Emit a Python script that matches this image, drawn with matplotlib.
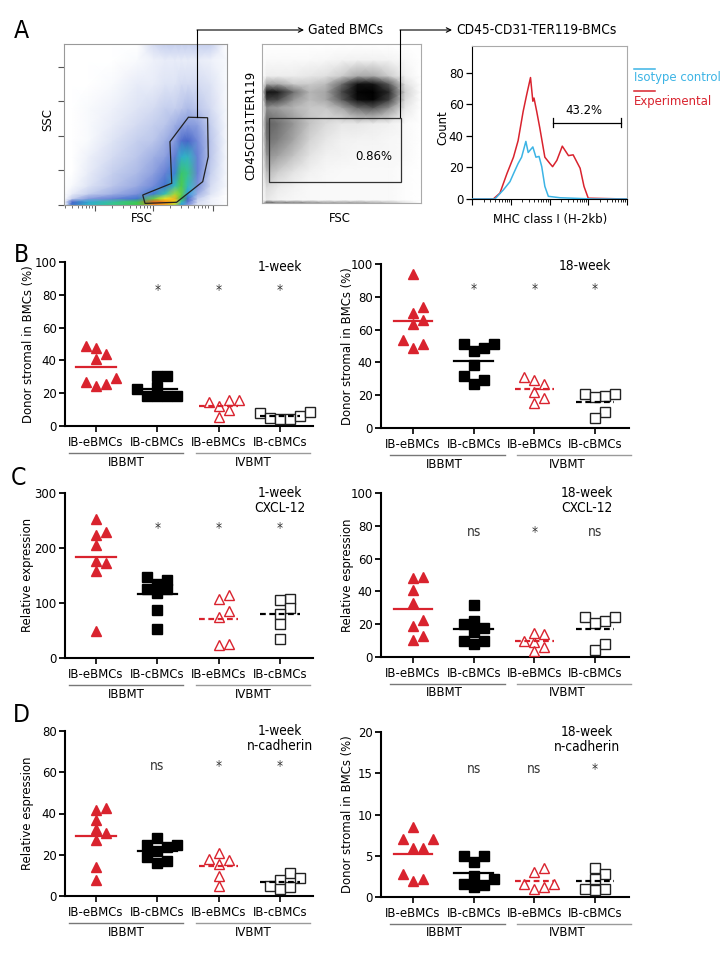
import numpy as np
import matplotlib
matplotlib.use("Agg")
import matplotlib.pyplot as plt
import matplotlib.transforms as mtransforms
from matplotlib import font_manager
from matplotlib.colors import LinearSegmentedColormap

# ---------------- data ----------------
categories = ["IB-eBMCs", "IB-cBMCs", "IB-eBMCs", "IB-cBMCs"]
groups = ["IBBMT", "IVBMT"]

# B: donor stromal in BMCs (%)
b_1week = [
    [47.5, 49, 44, 41, 27, 24.5, 25.5, 29.5],
    [30.5, 30.5, 23.5, 22.5, 18, 18, 18, 18.5],
    [16, 14.5, 16, 12, 9.5, 5.5],
    [8, 5, 4, 4, 6, 8.5],
]
b_18week = [
    [94, 70, 74, 66, 63.5, 53.5, 48.5, 51.5],
    [51, 47, 48.5, 51.5, 38.5, 32, 27, 29],
    [29.5, 27, 31, 22, 18, 15],
    [20.5, 19.5, 19, 20.5, 10, 6],
]
# C: CXCL-12 relative expression
c_1week = [
    [253, 229, 223, 206, 172, 176, 158, 50],
    [148, 126, 141, 135, 125, 117.5, 87, 53],
    [108, 115, 85, 74.5, 23, 25],
    [108, 105, 91, 79.5, 62.5, 34],
]
c_18week = [
    [48, 49, 41, 33, 22.5, 19, 13, 10.5],
    [32, 22, 17.5, 20, 15.5, 10, 8, 9.5],
    [14, 9, 10, 14.5, 3.5, 6],
    [24.5, 22, 20.5, 24.5, 4.5, 8],
]
# D: n-cadherin
d_1week = [
    [41.5, 42.5, 37, 32.5, 30.5, 27, 14, 8],
    [28, 24.5, 24, 24.5, 22, 19, 17, 16],
    [21, 17.5, 18, 15.5, 9.5, 5],
    [11, 8.5, 8, 5, 3.5, 4.5],
]
d_18week = [
    [8.5, 7, 7, 6, 6, 2.8, 2, 2.2],
    [5, 5, 4.2, 2.5, 2.2, 1.6, 1.4, 1.2],
    [3.5, 3, 1.6, 1.6, 1, 1.2],
    [3.5, 2.8, 2.2, 1.0, 0.8, 1.0],
]
sig_b_1week = ["", "*", "*", "*"]
sig_b_18week = ["", "*", "*", "*"]
sig_c_1week = ["", "*", "*", "*"]
sig_c_18week = ["", "ns", "*", "ns"]
sig_d_1week = ["", "ns", "*", "*"]
sig_d_18week = ["", "ns", "ns", "*"]

# A: MHC class I histogram (x in decades, count)
hist_x_exp = [0, 0.55, 0.72, 0.90, 1.07, 1.19, 1.32, 1.41, 1.51, 1.57, 1.60, 1.67, 1.75,
              1.88, 2.01, 2.08, 2.19, 2.33, 2.49, 2.61, 2.79, 2.89, 3.00, 4.0]
hist_exp = [0, 0, 3.7, 16, 26.5, 37, 55.5, 66, 77, 62, 64, 55.5, 45,
            26.5, 22.5, 20.5, 24.5, 33.5, 27.5, 28, 19.5, 8, 0.5, 0]
hist_x_iso = [0, 0.59, 0.81, 0.98, 1.07, 1.19, 1.28, 1.39, 1.45, 1.57, 1.65, 1.73, 1.80,
              1.88, 1.97, 2.27, 2.70, 3.13, 4.0]
hist_iso = [0, 0, 5.8, 11, 16, 22.5, 26.5, 36.5, 29.5, 33, 26.5, 27, 20.5,
            8, 1.7, 0.8, 0.4, 0, 0]

# A: FSC/SSC event density (relative)
fsc_ssc_x = [0, 0.05, 0.15, 0.3, 0.45, 0.55, 0.62, 0.68, 0.72, 0.76, 0.82, 0.9, 1.0]
fsc_ssc_y = [0, 0.02, 0.04, 0.07, 0.12, 0.2, 0.3, 0.4, 0.5, 0.6, 0.75, 0.9, 1.0]
fsc_ssc_density = [
    [0, 0.24, 0.36, 0.45, 0.50, 0.85, 0.80, 0.62, 0.30, 0.12, 0.04, 0.02, 0],
    [0, 0.22, 0.34, 0.44, 0.50, 0.92, 0.88, 0.75, 0.40, 0.18, 0.05, 0.02, 0],
    [0, 0.06, 0.12, 0.16, 0.24, 0.55, 0.72, 0.80, 0.50, 0.22, 0.06, 0.02, 0],
    [0, 0.03, 0.06, 0.09, 0.13, 0.25, 0.42, 0.62, 0.55, 0.30, 0.09, 0.04, 0],
    [0, 0.01, 0.04, 0.07, 0.10, 0.14, 0.24, 0.40, 0.52, 0.40, 0.13, 0.05, 0.01],
    [0, 0.00, 0.03, 0.06, 0.08, 0.11, 0.16, 0.26, 0.48, 0.45, 0.16, 0.06, 0.01],
    [0, 0.00, 0.02, 0.05, 0.07, 0.09, 0.11, 0.17, 0.35, 0.38, 0.16, 0.07, 0.01],
    [0, 0.00, 0.01, 0.04, 0.06, 0.07, 0.09, 0.12, 0.20, 0.22, 0.14, 0.07, 0.01],
    [0, 0.00, 0.01, 0.03, 0.05, 0.06, 0.07, 0.09, 0.11, 0.12, 0.11, 0.06, 0.01],
    [0, 0.00, 0.01, 0.02, 0.04, 0.05, 0.06, 0.06, 0.07, 0.08, 0.07, 0.05, 0.01],
    [0, 0.00, 0.00, 0.01, 0.03, 0.03, 0.04, 0.04, 0.05, 0.05, 0.05, 0.04, 0.01],
    [0, 0.00, 0.00, 0.00, 0.01, 0.02, 0.03, 0.03, 0.03, 0.03, 0.03, 0.02, 0.01],
    [0, 0.00, 0.00, 0.00, 0.00, 0.05, 0.06, 0.06, 0.06, 0.06, 0.06, 0.06, 0],
]
gate_bmc = [(0.763, 0.545), (0.881, 0.542), (0.885, 0.300), (0.851, 0.145), (0.691, 0.017),
            (0.497, 0.010), (0.483, 0.062), (0.661, 0.135), (0.650, 0.393)]

# A: CD45CD31TER119 vs FSC event density
fsc_cd_x = [0, 0.03, 0.1, 0.2, 0.3, 0.4, 0.5, 0.6, 0.7, 0.8, 0.9, 1.0]
fsc_cd_y = [0, 0.02, 0.1, 0.2, 0.3, 0.4, 0.5, 0.6, 0.65, 0.7, 0.75, 0.8, 0.9, 1.0]
fsc_cd_density = [
    [0, 0.50, 0.40, 0.40, 0.35, 0.30, 0.30, 0.30, 0.25, 0.20, 0.10, 0],
    [0, 0.08, 0.04, 0.03, 0.02, 0.02, 0.02, 0.02, 0.02, 0.02, 0.01, 0],
    [0, 0.12, 0.07, 0.04, 0.02, 0.02, 0.02, 0.02, 0.02, 0.02, 0.01, 0],
    [0, 0.22, 0.16, 0.09, 0.05, 0.03, 0.02, 0.02, 0.02, 0.02, 0.01, 0],
    [0, 0.32, 0.27, 0.18, 0.09, 0.05, 0.04, 0.03, 0.03, 0.03, 0.02, 0],
    [0, 0.40, 0.36, 0.26, 0.14, 0.08, 0.05, 0.04, 0.04, 0.03, 0.02, 0],
    [0, 0.44, 0.40, 0.30, 0.18, 0.12, 0.08, 0.08, 0.06, 0.05, 0.02, 0],
    [0, 0.32, 0.28, 0.22, 0.17, 0.17, 0.26, 0.42, 0.47, 0.32, 0.08, 0],
    [0, 0.55, 0.50, 0.30, 0.20, 0.25, 0.45, 0.85, 0.95, 0.55, 0.12, 0],
    [0, 0.80, 0.72, 0.40, 0.22, 0.26, 0.50, 0.95, 1.00, 0.65, 0.15, 0],
    [0, 0.25, 0.25, 0.16, 0.16, 0.20, 0.40, 0.80, 0.75, 0.45, 0.10, 0],
    [0, 0.06, 0.06, 0.06, 0.08, 0.10, 0.16, 0.25, 0.25, 0.16, 0.05, 0],
    [0, 0.02, 0.02, 0.02, 0.02, 0.03, 0.04, 0.05, 0.05, 0.04, 0.02, 0],
    [0, 0, 0, 0, 0, 0, 0, 0, 0, 0, 0, 0],
]
gate_cd = [(0.046, 0.134), (0.874, 0.134), (0.874, 0.533), (0.046, 0.533)]

# ---------------- fonts ----------------
def pick_font():
    # prefer a narrow / condensed sans face, like the original figure
    found = []
    for f in font_manager.fontManager.ttflist:
        key = (f.fname + " " + f.name).lower()
        narrow = "narrow" in key or "condensed" in key or f.stretch in ("condensed", "semi-condensed")
        if not narrow or "mono" in key or "serif" in key or "extra" in key or "ultra" in key:
            continue
        if f.style != "normal" or f.weight not in (400, "normal", "regular"):
            continue
        found.append(f)
    if found:
        found.sort(key=lambda f: 0 if "liberation" in f.name.lower() else 1)
        return found[0].name, found[0].stretch
    names = {f.name for f in font_manager.fontManager.ttflist}
    for n in ["Roboto", "Liberation Sans", "DejaVu Sans"]:
        if n in names:
            return n, "normal"
    return "DejaVu Sans", "normal"


fam, stretch = pick_font()
plt.rcParams["font.family"] = [fam, "DejaVu Sans"]
plt.rcParams["font.stretch"] = stretch

RED = "#d9232e"
BLUE = "#3cb4e5"

fig = plt.figure(figsize=(7.2, 9.6), dpi=100)

# scale text so a category label is about as wide as in the original
_probe = fig.text(0, 0, "IB-eBMCs", fontsize=10)
_w = _probe.get_window_extent(fig.canvas.get_renderer()).width
_probe.remove()
K = min(1.0, 55.0 / _w)


def fs(size):
    return size * K


def add_ax(x0, y0, x1, y1):
    return fig.add_axes([x0 / 720, 1 - y1 / 960, (x1 - x0) / 720, (y1 - y0) / 960])


def swarm_offsets(vals, px_y, px_x, size=10.0, ytol=8.5):
    # greedy beeswarm in pixel space, lowest values first
    vals = np.asarray(vals, float)
    order = np.argsort(vals, kind="stable")
    cands = [0.0]
    for k in range(1, 14):
        cands += [k * size / 2, -k * size / 2]
    placed = []
    offs = np.zeros(len(vals))
    for i in order:
        y = vals[i] * px_y
        for c in cands:
            if all(abs(c - px) >= size * 0.98 or abs(y - py) >= ytol for px, py in placed):
                break
        placed.append((c, y))
        offs[i] = c / px_x
    return offs


marker_styles = [
    dict(marker="^", ms=7, mfc=RED, mec=RED, mew=1.0),
    dict(marker="s", ms=6.5, mfc="k", mec="k", mew=1.0),
    dict(marker="^", ms=7, mfc="white", mec=RED, mew=1.0),
    dict(marker="s", ms=6.5, mfc="white", mec="#222222", mew=1.0),
]
mean_styles = [(RED, "-"), ("k", "-"), (RED, "--"), ("k", "--")]


def dot_panel(box, data, ymax, yticks, sig, sig_y, title, title_x, title_y, xlim, left_side):
    ax = add_ax(*box)
    ax.set_xlim(*xlim)
    ax.set_ylim(0, ymax)
    px_x = (box[2] - box[0]) / (xlim[1] - xlim[0])
    px_y = (box[3] - box[1]) / ymax
    for i, vals in enumerate(data):
        x = i + 1
        offs = swarm_offsets(vals, px_y, px_x)
        ax.plot(x + offs, vals, linestyle="none", clip_on=False, zorder=3, **marker_styles[i])
        col, ls = mean_styles[i]
        kw = dict(dashes=(2.6, 1.6)) if ls == "--" else {}
        ax.plot([x - 0.32, x + 0.32], [np.mean(vals)] * 2, color=col, lw=1.6, zorder=4, **kw)
        if sig[i]:
            ax.text(x, sig_y, sig[i], ha="center", va="center", fontsize=fs(10.5), color="#333333")
    ax.text(title_x, title_y, title, ha="center", va="top", fontsize=fs(10.5), linespacing=1.05)
    for s in ["top", "right"]:
        ax.spines[s].set_visible(False)
    for s in ["left", "bottom"]:
        ax.spines[s].set_linewidth(1.5)
    ax.set_yticks(yticks)
    ax.set_yticklabels([str(t) for t in yticks])
    ax.set_xticks([1, 2, 3, 4])
    ax.set_xticklabels(categories)
    ax.tick_params(axis="y", length=4, width=1.3, pad=2, labelsize=fs(10))
    ax.tick_params(axis="x", length=4, width=1.2, pad=3, labelsize=fs(10))
    if left_side:
        spans = [(0.56, 2.42), (2.63, 4.49)]
        lab_x = [1.49, 3.56]
    else:
        spans = [(0.62, 2.52), (2.72, 4.6)]
        lab_x = [1.52, 3.55]
    line_tr = mtransforms.offset_copy(ax.get_xaxis_transform(), fig=fig, y=-27, units="dots")
    lab_tr = mtransforms.offset_copy(ax.get_xaxis_transform(), fig=fig, y=-36, units="dots")
    for (a, b), lx, g, gc in zip(spans, lab_x, groups, ["#777777", "#9a9a9a"]):
        ax.plot([a, b], [0, 0], color=gc, lw=1.0, transform=line_tr, clip_on=False)
        ax.text(lx, 0, g, transform=lab_tr, ha="center", va="center", fontsize=fs(10))
    return ax


# ---------------- panel A ----------------
cmap_flow = LinearSegmentedColormap.from_list(
    "flow",
    [(0, "white"), (0.02, "#eef1fa"), (0.04, "#dde3f5"), (0.08, "#aab8e6"), (0.14, "#7088d8"),
     (0.22, "#4766c8"), (0.3, "#2f9fe0"), (0.42, "#35c2b0"), (0.5, "#3cc850"), (0.62, "#a6da38"),
     (0.72, "#f2e81e"), (0.85, "#f5941c"), (1.0, "#e2231a")])
cmap_gray = LinearSegmentedColormap.from_list(
    "gray", [(0, "white"), (0.05, "#f0f0f0"), (0.15, "#cfcfcf"), (0.3, "#969696"),
             (0.5, "#4a4a4a"), (0.75, "#151515"), (1.0, "black")])

ax1 = add_ax(64, 44, 227, 205)
ax1.pcolormesh(fsc_ssc_x, fsc_ssc_y, np.array(fsc_ssc_density), shading="gouraud",
               cmap=cmap_flow, vmin=0, vmax=1)
ax1.add_patch(plt.Polygon(gate_bmc, closed=True, fill=False, ec="#222222", lw=0.9))
ax1.set_xlim(0, 1)
ax1.set_ylim(0, 1)
ax1.set_yticks([0, 0.215, 0.43, 0.645, 0.86])
dec = 0.356
majors = [0.19, 0.546, 0.914]
minors = [b + dec * np.log10(k) for b in [-0.166] + majors for k in range(2, 10)]
ax1.set_xticks(majors)
ax1.set_xticks([m for m in minors if 0 < m < 1], minor=True)
ax1.tick_params(which="both", labelbottom=False, labelleft=False, color="#555555")
ax1.tick_params(which="major", length=4, width=0.8)
ax1.tick_params(which="minor", length=2.5, width=0.6)
for s in ax1.spines.values():
    s.set_color("#999999")
    s.set_linewidth(0.8)

ax2 = add_ax(262, 44, 421, 203)
ax2.pcolormesh(fsc_cd_x, fsc_cd_y, np.array(fsc_cd_density), shading="gouraud",
               cmap=cmap_gray, vmin=0, vmax=1)
ax2.add_patch(plt.Polygon(gate_cd, closed=True, fill=False, ec="#333333", lw=0.9))
ax2.set_xlim(0, 1)
ax2.set_ylim(0, 1)
ax2.set_xticks([])
ax2.set_yticks([])
for s in ax2.spines.values():
    s.set_color("#aaaaaa")
    s.set_linewidth(0.8)
ax2.text(0.7, 0.29, "0.86%", transform=ax2.transAxes, ha="center", va="center", fontsize=fs(10))

ax3 = add_ax(472, 46, 627, 199)
ax3.plot(hist_x_iso, hist_iso, color=BLUE, lw=1.1, zorder=3)
ax3.plot(hist_x_exp, hist_exp, color=RED, lw=1.1, zorder=2)
ax3.plot([2.08, 3.84], [48.4, 48.4], color="k", lw=0.9)
for bx in [2.08, 3.84]:
    ax3.plot([bx, bx], [45.5, 51.3], color="k", lw=0.9)
ax3.text(2.88, 52, "43.2%", ha="center", va="bottom", fontsize=fs(10))
ax3.set_xlim(0, 4)
ax3.set_ylim(0, 97)
ax3.set_yticks([0, 20, 40, 60, 80])
ax3.set_xticks([0, 1, 2, 3, 4])
ax3.set_xticks([d + np.log10(k) for d in range(4) for k in range(2, 10)], minor=True)
ax3.tick_params(axis="x", which="both", labelbottom=False)
ax3.tick_params(axis="x", which="major", length=4, width=0.8)
ax3.tick_params(axis="x", which="minor", length=2.5, width=0.6)
ax3.tick_params(axis="y", length=4, width=0.9, pad=2, labelsize=fs(10))
for s in ["top", "right"]:
    ax3.spines[s].set_color("#aaaaaa")
    ax3.spines[s].set_linewidth(0.8)

# ---------------- panels B-D ----------------
LB = (0.494, 4.54)
RB = (0.473, 4.56)
dot_panel((65, 262, 313, 426), b_1week, 100, [0, 20, 40, 60, 80, 100], sig_b_1week, 83,
          "1-week", 4.0, 101, LB, True)
dot_panel((381, 264, 629, 428), b_18week, 100, [0, 20, 40, 60, 80, 100], sig_b_18week, 85,
          "18-week", 3.84, 103, RB, False)
dot_panel((65, 493, 313, 658), c_1week, 300, [0, 100, 200, 300], sig_c_1week, 236,
          "1-week\nCXCL-12", 4.0, 312, LB, True)
dot_panel((381, 493, 629, 657), c_18week, 100, [0, 20, 40, 60, 80, 100], sig_c_18week, 76,
          "18-week\nCXCL-12", 3.86, 104, RB, False)
dot_panel((65, 731, 313, 896), d_1week, 80, [0, 20, 40, 60, 80], sig_d_1week, 63,
          "1-week\nn-cadherin", 4.0, 83.2, LB, True)
dot_panel((381, 732, 629, 897), d_18week, 20, [0, 5, 10, 15, 20], sig_d_18week, 15.5,
          "18-week\nn-cadherin", 3.86, 20.8, RB, False)

# ---------------- annotations in figure pixels ----------------
ov = fig.add_axes([0, 0, 1, 1], zorder=10)
ov.set_xlim(0, 720)
ov.set_ylim(960, 0)
ov.axis("off")

for letter, (lx, ly) in zip("ABCD", [(21, 31), (21, 255), (19, 478), (21, 715)]):
    ov.text(lx, ly, letter, fontsize=fs(19), ha="center", va="center")

ov.plot([197, 197], [117, 30], color="k", lw=0.8)
ov.annotate("", xy=(304, 30), xytext=(197, 30),
            arrowprops=dict(arrowstyle="->", lw=0.8, shrinkA=0, shrinkB=0, mutation_scale=8))
ov.text(308, 30, "Gated BMCs", ha="left", va="center", fontsize=fs(10.5))
ov.plot([400, 400], [117, 30], color="k", lw=0.8)
ov.annotate("", xy=(452, 30), xytext=(400, 30),
            arrowprops=dict(arrowstyle="->", lw=0.8, shrinkA=0, shrinkB=0, mutation_scale=8))
ov.text(456, 30, "CD45-CD31-TER119-BMCs", ha="left", va="center", fontsize=fs(10.5))

ov.text(48, 120, "SSC", rotation=90, ha="center", va="center", fontsize=fs(10))
ov.text(142, 219, "FSC", ha="center", va="center", fontsize=fs(10))
ov.text(251, 125, "CD45CD31TER119", rotation=90, ha="center", va="center", fontsize=fs(10))
ov.text(340, 219, "FSC", ha="center", va="center", fontsize=fs(10))
ov.text(443, 128, "Count", rotation=90, ha="center", va="center", fontsize=fs(10))
ov.text(550, 219, "MHC class I (H-2kb)", ha="center", va="center", fontsize=fs(10))

ov.plot([634, 655], [69, 69], color=BLUE, lw=1.1)
ov.text(634, 78, "Isotype control", color=BLUE, ha="left", va="center", fontsize=fs(10))
ov.plot([634, 655], [91, 91], color=RED, lw=1.1)
ov.text(634, 101, "Experimental", color=RED, ha="left", va="center", fontsize=fs(10))

ylabels = [
    (29, 344, "Donor stromal in BMCs (%)"), (347, 346, "Donor stromal in BMCs (%)"),
    (28, 575, "Relative expression"), (347, 575, "Relative espression"),
    (28, 813, "Relative espression"), (347, 814, "Donor stromal in BMCs (%)"),
]
for x, y, t in ylabels:
    ov.text(x, y, t, rotation=90, ha="center", va="center", fontsize=fs(10))

fig.savefig("out.png", dpi=100)
